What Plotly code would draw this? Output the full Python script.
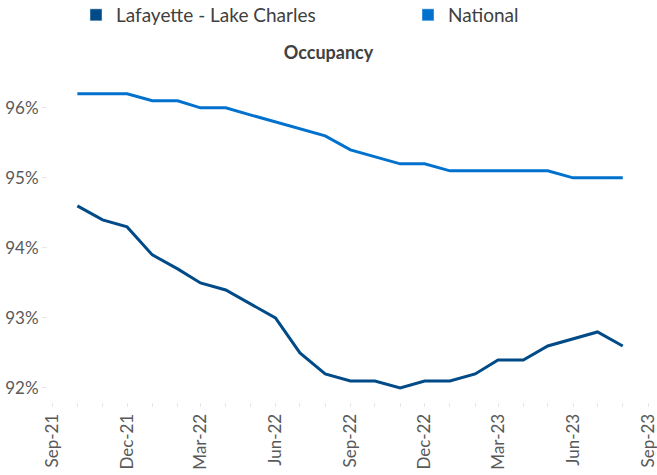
import plotly.graph_objects as go

months = ["2021-10-01", "2021-11-01", "2021-12-01", "2022-01-01", "2022-02-01", "2022-03-01",
          "2022-04-01", "2022-05-01", "2022-06-01", "2022-07-01", "2022-08-01", "2022-09-01",
          "2022-10-01", "2022-11-01", "2022-12-01", "2023-01-01", "2023-02-01", "2023-03-01",
          "2023-04-01", "2023-05-01", "2023-06-01", "2023-07-01", "2023-08-01"]
lafayette = [94.6, 94.4, 94.3, 93.9, 93.7, 93.5, 93.4, 93.2, 93.0, 92.5, 92.2, 92.1,
             92.1, 92.0, 92.1, 92.1, 92.2, 92.4, 92.4, 92.6, 92.7, 92.8, 92.6]
national = [96.2, 96.2, 96.2, 96.1, 96.1, 96.0, 96.0, 95.9, 95.8, 95.7, 95.6, 95.4,
            95.3, 95.2, 95.2, 95.1, 95.1, 95.1, 95.1, 95.1, 95.0, 95.0, 95.0]

tick_dates = ["2021-09-01", "2021-12-01", "2022-03-01", "2022-06-01", "2022-09-01",
              "2022-12-01", "2023-03-01", "2023-06-01", "2023-09-01"]
tick_labels = ["Sep-21", "Dec-21", "Mar-22", "Jun-22", "Sep-22", "Dec-22", "Mar-23", "Jun-23", "Sep-23"]
y_ticks = [92, 93, 94, 95, 96]
y_labels = ["92%", "93%", "94%", "95%", "96%"]

c_laf = "#004B87"
c_nat = "#0072CE"
font = "Lato"

fig = go.Figure()
fig.add_trace(go.Scatter(x=months, y=lafayette, mode="lines", line=dict(color=c_laf, width=3),
                         showlegend=False, name="Lafayette - Lake Charles"))
fig.add_trace(go.Scatter(x=months, y=national, mode="lines", line=dict(color=c_nat, width=3),
                         showlegend=False, name="National"))
# legend swatches
fig.add_trace(go.Bar(x=[None], y=[None], marker_color=c_laf, name="Lafayette - Lake Charles",
                     legend="legend"))
fig.add_trace(go.Bar(x=[None], y=[None], marker_color=c_nat, name="National", legend="legend2"))

leg_common = dict(orientation="h", xref="container", yref="container", y=1 - 15 / 475,
                  xanchor="left", yanchor="middle", font=dict(family=font, size=19, color="#404040"),
                  bgcolor="rgba(0,0,0,0)")

fig.update_layout(
    width=657, height=475,
    margin=dict(l=48, r=0, t=70, b=73),
    paper_bgcolor="white", plot_bgcolor="white",
    font=dict(family=font, size=16, color="#595959"),
    title=dict(text="<b>Occupancy</b>", x=0.5, xanchor="center", y=1 - 53 / 475, yanchor="middle",
               font=dict(family=font, size=18, color="#404040")),
    legend=dict(x=76 / 657, **leg_common),
    legend2=dict(x=408 / 657, **leg_common),
    xaxis=dict(type="date", range=["2021-08-26", "2023-09-12"], tickvals=tick_dates, ticktext=tick_labels,
               tickangle=-90, showgrid=False, zeroline=False, showline=False,
               ticks="outside", ticklen=4, tickcolor="#e6e6e6", ticklabeloverflow="allow",
               minor=dict(dtick="M1", tick0="2021-09-01", ticks="outside", ticklen=4, tickcolor="#e6e6e6"),
               tickfont=dict(family=font, size=17, color="#595959"), automargin=False),
    yaxis=dict(range=[91.8, 96.54], tickvals=y_ticks, ticktext=y_labels, showgrid=False, zeroline=False,
               showline=False, ticks="outside", ticklen=5, tickcolor="#e6e6e6",
               tickfont=dict(family=font, size=17, color="#595959"), automargin=False),
)

fig.write_html("out.html", config={"displayModeBar": False},
               post_script="document.body.style.margin='0';document.body.style.overflow='hidden';")
